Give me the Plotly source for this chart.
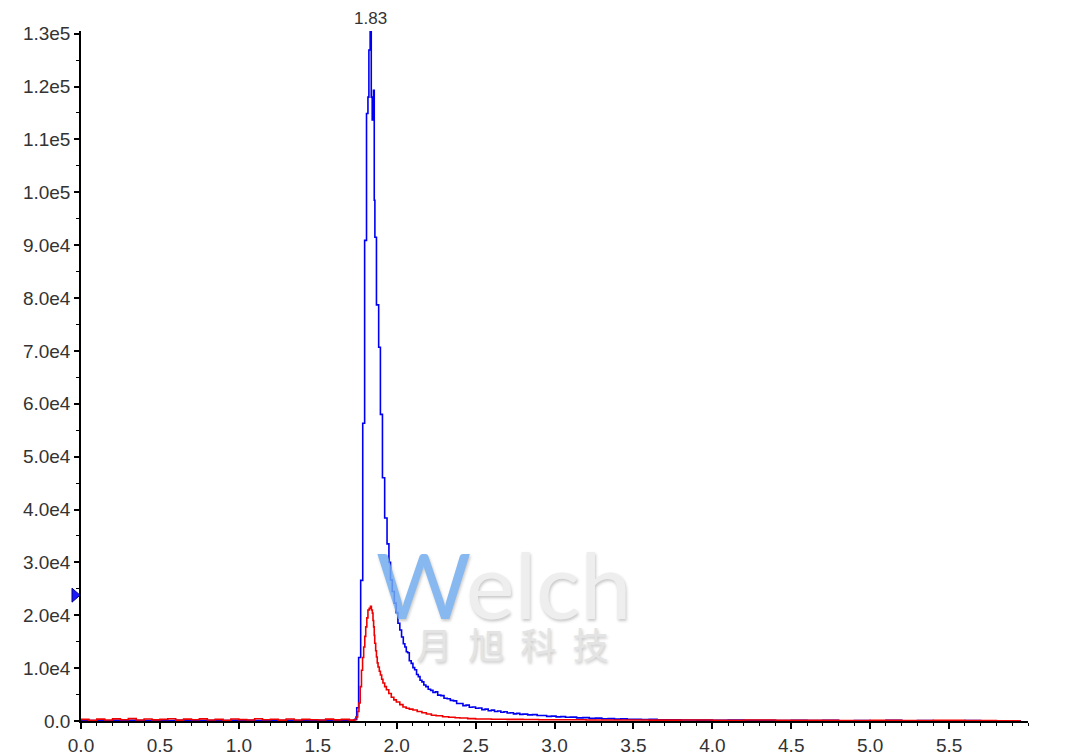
import plotly.graph_objects as go

# ---------------- data ----------------
blue_t = [0.00, 0.05, 0.10, 0.15, 0.20, 0.25, 0.30, 0.35, 0.40, 0.45, 0.50, 0.55, 0.60, 0.65, 0.70,
          0.75, 0.80, 0.85, 0.90, 0.95, 1.00, 1.05, 1.10, 1.15, 1.20, 1.25, 1.30, 1.35, 1.40, 1.45,
          1.50, 1.55, 1.60, 1.65, 1.70, 1.73,
          1.734, 1.747, 1.759, 1.772, 1.785, 1.797, 1.809, 1.818, 1.824, 1.832, 1.839, 1.845, 1.853,
          1.858, 1.862, 1.872, 1.886, 1.897, 1.910, 1.924, 1.939, 1.951, 1.961, 1.972, 1.985, 1.997,
          2.008, 2.020, 2.031, 2.042, 2.052, 2.061, 2.070, 2.080, 2.092, 2.103, 2.114, 2.126, 2.137,
          2.148, 2.160, 2.172, 2.185, 2.200, 2.215, 2.230, 2.245, 2.260, 2.280, 2.300, 2.320, 2.340,
          2.360, 2.380, 2.400, 2.420, 2.440, 2.460, 2.480, 2.500, 2.520, 2.540, 2.560, 2.580, 2.600,
          2.620, 2.640, 2.660, 2.680, 2.700, 2.720, 2.740, 2.760, 2.780, 2.800, 2.830, 2.860, 2.890,
          2.920, 2.950, 2.980, 3.010, 3.040, 3.070, 3.100, 3.140, 3.180, 3.220, 3.260, 3.300, 3.340,
          3.380, 3.420, 3.460, 3.500, 3.550, 3.600, 3.650, 3.700, 3.800, 3.900, 4.000, 4.100, 4.200,
          4.300, 4.400, 4.500, 4.600, 4.700, 4.800, 4.900, 5.000, 5.100, 5.200, 5.300, 5.400, 5.500,
          5.600, 5.700, 5.800, 5.900, 5.950]
blue_v = [120, 80, 150, 60, 110, 90, 140, 70, 100, 130, 60, 90, 120, 80, 150,
          100, 70, 130, 90, 110, 60, 140, 80, 120, 100, 70, 150, 90, 110, 80,
          130, 60, 100, 120, 90, 200,
          300, 2500, 12000, 26600, 56300, 90900, 114900, 118000, 126900, 130700, 118000, 113700, 119300,
          98500, 91500, 78700, 70700, 58000, 46000, 38400, 33500, 30000, 26700, 24500, 22300, 20500,
          18500, 17200, 15900, 14600, 14000, 13100, 12900, 11400, 10900, 10100, 9700, 8800, 8400,
          7700, 7400, 6800, 6500, 6000, 5800, 5400, 5500, 4900, 4800, 4300, 4200, 3900,
          3800, 3300, 3300, 2900, 3000, 2600, 2650, 2400, 2450, 2150, 2250, 1950, 2050,
          1800, 1900, 1650, 1750, 1500, 1550, 1350, 1450, 1250, 1300, 1150, 1200, 1050,
          1050, 880, 920, 780, 820, 700, 740, 600, 640, 500, 540, 420, 450,
          360, 400, 320, 330, 280, 300, 230, 250, 180, 170, 140, 180, 120, 150,
          100, 130, 80, 110, 60, 100, 50, 120, 40, 80, 60, 30, 70,
          40, 60, 30, 20, 20]

red_t = [0.00, 0.05, 0.10, 0.15, 0.20, 0.25, 0.30, 0.35, 0.40, 0.45, 0.50, 0.55, 0.60, 0.65, 0.70,
         0.75, 0.80, 0.85, 0.90, 0.95, 1.00, 1.05, 1.10, 1.15, 1.20, 1.25, 1.30, 1.35, 1.40, 1.45,
         1.50, 1.55, 1.60, 1.65, 1.70, 1.73,
         1.741, 1.753, 1.761, 1.769, 1.777, 1.784, 1.791, 1.798, 1.804, 1.811, 1.818, 1.826, 1.834,
         1.840, 1.846, 1.850, 1.854, 1.858, 1.861, 1.867, 1.872, 1.877, 1.882, 1.890, 1.897, 1.905,
         1.913, 1.924, 1.935, 1.950, 1.966, 1.982, 1.998, 2.020, 2.040, 2.060, 2.080, 2.103, 2.130,
         2.160, 2.188, 2.220, 2.250, 2.291, 2.330, 2.370, 2.400, 2.450, 2.500, 2.600, 2.700, 2.800,
         2.900, 3.000, 3.200, 3.400, 3.600, 3.800, 4.000, 4.200, 4.400, 4.600, 4.800, 5.000, 5.200,
         5.400, 5.600, 5.800, 5.950]
red_v = [300, 150, 350, 200, 400, 250, 450, 180, 380, 220, 300, 420, 160, 350, 250,
         400, 200, 300, 150, 380, 260, 180, 420, 230, 320, 160, 380, 200, 300, 250,
         180, 350, 220, 300, 160, 250,
         760, 1800, 3400, 6500, 9600, 12000, 14000, 16000, 17800, 19500, 21000, 21300, 21700,
         21000, 20400, 19000, 17800, 16200, 14700, 13300, 12100, 11000, 10200, 9400, 8700, 7900,
         7200, 6500, 5900, 5200, 4500, 4000, 3600, 3100, 2650, 2400, 2250, 2080, 1800,
         1550, 1320, 1100, 1000, 810, 700, 620, 570, 450, 380, 330, 300, 280,
         250, 230, 200, 180, 160, 200, 150, 180, 120, 150, 100, 130, 90,
         110, 80, 60, 50]

y_tickvals = [0, 10000, 20000, 30000, 40000, 50000, 60000, 70000, 80000, 90000,
              100000, 110000, 120000, 130000]
y_ticktext = ["0.0", "1.0e4", "2.0e4", "3.0e4", "4.0e4", "5.0e4", "6.0e4", "7.0e4", "8.0e4",
              "9.0e4", "1.0e5", "1.1e5", "1.2e5", "1.3e5"]
x_tickvals = [0.0, 0.5, 1.0, 1.5, 2.0, 2.5, 3.0, 3.5, 4.0, 4.5, 5.0, 5.5]
x_ticktext = ["0.0", "0.5", "1.0", "1.5", "2.0", "2.5", "3.0", "3.5", "4.0", "4.5", "5.0", "5.5"]

peak_time = 1.832
peak_label = "1.83"
marker_level = 23800

# ---------------- figure ----------------
fig = go.Figure()
fig.add_trace(go.Scatter(x=blue_t, y=blue_v, mode="lines", line=dict(color="#0000EE", width=1.6, shape="hv"),
                         showlegend=False, hoverinfo="skip"))
fig.add_trace(go.Scatter(x=red_t, y=red_v, mode="lines", line=dict(color="#EE0000", width=1.6, shape="hv"),
                         showlegend=False, hoverinfo="skip"))

tickfont = dict(family="Liberation Sans, Arial, sans-serif", size=19, color="#333333")

fig.update_layout(
    width=1072, height=747,
    margin=dict(l=73, r=52, t=23, b=34, autoexpand=False),
    paper_bgcolor="white", plot_bgcolor="white",
    xaxis=dict(range=[0, 6.0], tickmode="array", tickvals=x_tickvals, ticktext=x_ticktext,
               ticks="outside", ticklen=6, tickwidth=1.5, tickcolor="black", automargin=False,
               showline=True, linecolor="black", linewidth=1.5, showgrid=False, zeroline=False,
               tickfont=tickfont,
               minor=dict(tickmode="linear", tick0=0, dtick=0.1, ticks="outside", ticklen=3,
                          tickcolor="black", tickwidth=1.2, showgrid=False)),
    yaxis=dict(range=[0, 130500], tickmode="array", tickvals=y_tickvals, ticktext=y_ticktext,
               ticks="outside", ticklen=5, tickwidth=1.5, tickcolor="black", automargin=False,
               showline=True, linecolor="black", linewidth=1.5, showgrid=False, zeroline=False,
               tickfont=tickfont,
               minor=dict(tickmode="linear", tick0=0, dtick=5000, ticks="outside", ticklen=3,
                          tickcolor="black", tickwidth=1.2, showgrid=False)),
)

# level marker at the left of the y axis
fig.add_shape(type="path", xref="paper", yref="y", xsizemode="pixel", ysizemode="pixel",
              xanchor=0, yanchor=marker_level, path="M -9 -7 L -1 0 L -9 7 Z",
              fillcolor="#1a1aff", line=dict(color="#000080", width=1), layer="above")

fig.add_annotation(x=peak_time, y=130500, xref="x", yref="y", text=peak_label, showarrow=False,
                   yanchor="bottom", yshift=1,
                   font=dict(family="Liberation Sans, Arial, sans-serif", size=17, color="#333333"))

# watermark
fig.add_annotation(x=0.447, y=0.116, xref="paper", yref="paper", showarrow=False,
                   text='<span style="color:#73acee">W</span>elch', opacity=0.85,
                   font=dict(family="Lato, sans-serif", size=92, color="#ececec",
                             shadow="1px 2px 3px rgba(0,0,0,0.25)"))
fig.add_annotation(x=0.455, y=0.072, xref="paper", yref="paper", showarrow=False,
                   text="月  旭  科  技", opacity=0.85,
                   font=dict(family="Noto Sans CJK SC", size=36, color="#e0e0e0",
                             shadow="1px 2px 3px rgba(0,0,0,0.25)"))

fig.write_html("out.html")
